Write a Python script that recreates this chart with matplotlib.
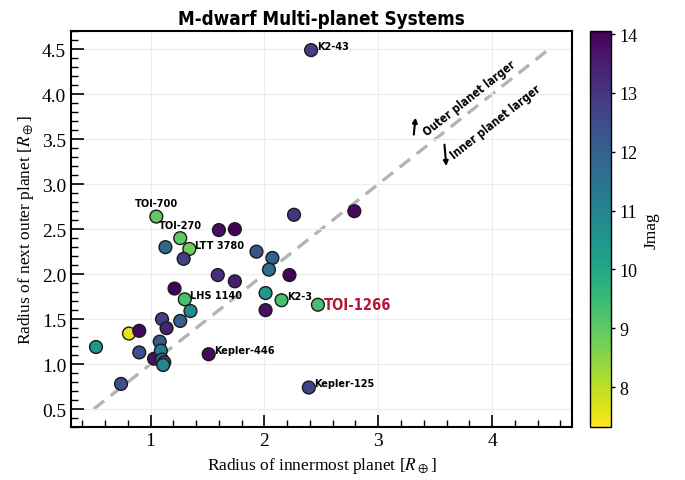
import matplotlib
matplotlib.use("Agg")
import matplotlib.pyplot as plt
from matplotlib.ticker import MultipleLocator
import numpy as np

# radius of innermost planet, radius of next outer planet, J magnitude
r_inner = [2.41, 2.79, 2.26, 1.05, 1.26, 1.60, 1.74, 1.13, 1.34, 1.29,
           1.93, 2.07, 2.04, 1.59, 1.74, 2.22, 1.21, 1.30, 1.35, 2.01,
           2.15, 2.47, 2.01, 1.10, 1.14, 1.26, 0.52, 0.81, 0.90, 0.90,
           0.74, 1.03, 1.08, 1.09, 1.10, 1.12, 1.11, 1.51, 2.39]
r_outer = [4.49, 2.70, 2.66, 2.64, 2.40, 2.49, 2.50, 2.30, 2.28, 2.17,
           2.25, 2.18, 2.05, 1.99, 1.92, 1.99, 1.84, 1.72, 1.59, 1.79,
           1.71, 1.66, 1.60, 1.50, 1.40, 1.48, 1.19, 1.34, 1.37, 1.13,
           0.78, 1.06, 1.25, 1.15, 1.05, 1.02, 0.99, 1.11, 0.74]
jmag = [12.8, 13.9, 13.0, 9.0, 9.0, 13.8, 14.0, 11.8, 8.8, 12.8,
        12.3, 12.0, 11.5, 13.2, 13.5, 14.0, 14.0, 9.3, 10.8, 10.4,
        9.3, 9.3, 13.8, 12.8, 13.4, 12.0, 10.5, 7.6, 13.9, 12.4,
        12.4, 13.8, 12.2, 11.3, 11.6, 12.5, 11.0, 13.9, 12.7]

# named systems: (name, index into the arrays above)
names = ["K2-43", "TOI-700", "TOI-270", "LTT 3780", "LHS 1140",
         "K2-3", "TOI-1266", "Kepler-446", "Kepler-125"]
name_idx = [0, 3, 4, 8, 17, 20, 21, 37, 38]

label_font = dict(family="DejaVu Sans", fontstretch="condensed", fontweight="bold")
plt.rcParams["font.family"] = ["Liberation Serif", "DejaVu Serif"]
plt.rcParams["mathtext.fontset"] = "stix"

fig = plt.figure(figsize=(6.85, 4.81), dpi=100)
ax = fig.add_axes([0.1036, 0.110, 0.731, 0.823])
cax = fig.add_axes([0.861, 0.110, 0.0307, 0.823])

ax.grid(True, color="#ececec", lw=0.8, zorder=0)
ax.plot([0.5, 4.5], [0.5, 4.5], ls=(0, (4, 2.5)), color="#b4b4b4", lw=2.4, zorder=1)

sc = ax.scatter(r_inner, r_outer, c=jmag, cmap="viridis_r", vmin=7.32, vmax=14.05,
                s=85, edgecolors="#1a1a1a", linewidths=1.0, zorder=3)

for name, i in zip(names, name_idx):
    x, y = r_inner[i], r_outer[i]
    if name in ("TOI-700", "TOI-270"):
        ax.annotate(name, (x, y), xytext=(0, 6), textcoords="offset points",
                    ha="center", va="bottom", fontsize=7.8, zorder=4, **label_font)
    elif name == "TOI-1266":
        ax.annotate(name, (x, y), xytext=(4, 0), textcoords="offset points",
                    ha="left", va="center", fontsize=10.5, color="#b5173a",
                    zorder=4, **label_font)
    else:
        ax.annotate(name, (x, y), xytext=(4, 3), textcoords="offset points",
                    ha="left", va="center", fontsize=7.8, zorder=4, **label_font)

# which side of the one-to-one line is which
ang = np.degrees(np.arctan((0.823 * 4.81) / (0.731 * 6.85)))
ax.text(3.80, 3.96, "Outer planet larger", rotation=ang, ha="center", va="center",
        rotation_mode="anchor", fontsize=8.3, **label_font)
ax.text(4.03, 3.70, "Inner planet larger", rotation=ang, ha="center", va="center",
        rotation_mode="anchor", fontsize=8.3, **label_font)
ax.annotate("", xy=(3.33, 3.77), xytext=(3.31, 3.52),
            arrowprops=dict(arrowstyle="-|>", color="black", lw=1.5, mutation_scale=7))
ax.annotate("", xy=(3.6, 3.17), xytext=(3.58, 3.47),
            arrowprops=dict(arrowstyle="-|>", color="black", lw=1.5, mutation_scale=7))

ax.set_xlim(0.3, 4.7)
ax.set_ylim(0.3, 4.7)
ax.xaxis.set_major_locator(MultipleLocator(1))
ax.xaxis.set_minor_locator(MultipleLocator(0.2))
ax.yaxis.set_major_locator(MultipleLocator(0.5))
ax.yaxis.set_minor_locator(MultipleLocator(0.1))
ax.tick_params(which="major", direction="in", length=9, width=1.2, labelsize=14)
ax.tick_params(which="minor", direction="in", length=5, width=1.0)
for sp in ax.spines.values():
    sp.set_linewidth(1.5)

ax.set_xlabel(r"Radius of innermost planet [$R_\oplus$]", fontsize=12.5)
ax.set_ylabel(r"Radius of next outer planet [$R_\oplus$]", fontsize=12.5)
ax.set_title("M-dwarf Multi-planet Systems", fontsize=13.5, pad=5, **label_font)

cb = fig.colorbar(sc, cax=cax)
cb.set_ticks([8, 9, 10, 11, 12, 13, 14])
cb.ax.tick_params(labelsize=13, length=3, width=1)
cb.set_label("Jmag", fontsize=12.5)
cb.outline.set_linewidth(1.0)

fig.savefig("out.png", dpi=100)
